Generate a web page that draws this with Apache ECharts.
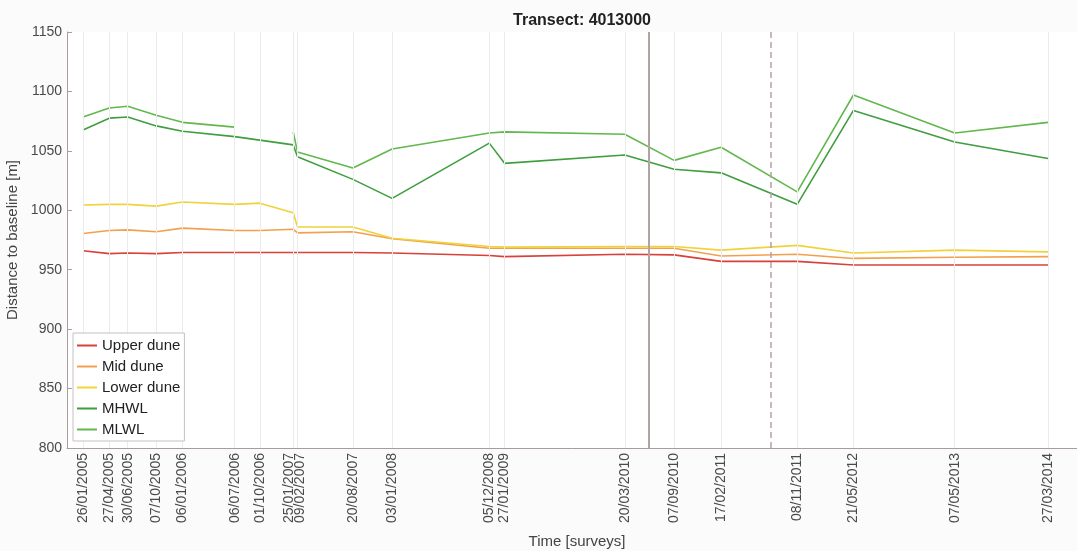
<!DOCTYPE html>
<html>
<head>
<meta charset="utf-8">
<script src="https://cdn.jsdelivr.net/npm/echarts@6/dist/echarts.min.js"></script>
<style>
  html, body { margin: 0; padding: 0; background: #fbfbfb; }
  #chart { width: 1077px; height: 551px; }
</style>
</head>
<body>
<div id="chart"></div>
<script>
// survey dates (tick labels) and the profile positions
var surveyDates = ['26/01/2005','27/04/2005','30/06/2005','07/10/2005','06/01/2006','06/07/2006','01/10/2006','25/01/2007','09/02/2007','20/08/2007','03/01/2008','05/12/2008','27/01/2009','20/03/2010','07/09/2010','17/02/2011','08/11/2011','21/05/2012','07/05/2013','27/03/2014'];

var upperDune = [966, 963.5, 964, 963.5, 964.5, 964.5, 964.5, 964.5, 964.5, 964.5, 964, 962, 961, 963, 962.5, 957, 957, 954, 954, 954];
var midDune   = [980.5, 983, 983.5, 982, 985, 983, 983, 984, 981, 982, 976, 968, 968, 968, 968, 961.5, 963, 959.5, 960.5, 961];
var lowerDune = [1004.5, 1005, 1005, 1003.5, 1007, 1005, 1006, 998, 986, 986, 976.5, 969.5, 969, 969.5, 969.5, 966.5, 970.5, 964, 966.5, 965];
var mhwl      = [1067.5, 1077.5, 1078.5, 1071, 1066.5, 1062, 1059, 1055, 1045, 1026, 1010, 1056.5, 1039.5, 1046.5, 1034.5, 1031.5, 1005, 1084, 1057.5, 1043.5];
var mlwl      = [1078.5, 1086, 1087.5, 1080, 1074, 1070, null, 1066, 1049, 1035.5, 1051.5, 1065, 1066, 1064, 1042, 1053, 1015.5, 1097, 1065, 1074];

var eventLine = '12/06/2010';   // solid vertical
var eventDashed = '09/08/2011'; // dashed vertical

var seriesNames = ['Upper dune', 'Mid dune', 'Lower dune', 'MHWL', 'MLWL'];
var seriesColors = ['#d8413a', '#f3a04e', '#f0d23a', '#3f9e3f', '#62b84e'];

function toTime(s) {
    var p = s.split('/');
    return new Date(+p[2], +p[1] - 1, +p[0]).getTime();
}

var ticks = surveyDates.map(toTime);
var tickText = {};
surveyDates.forEach(function (s, i) { tickText[ticks[i]] = s; });

function pairs(vals) {
    return vals.map(function (v, i) { return [ticks[i], v]; });
}

var DAY = 86400000;
var xMin = ticks[0] - 55.5 * DAY;
var xMax = ticks[0] + 3482 * DAY;

var myChart = echarts.init(document.getElementById('chart'));

var allSeries = [{
    // vertical grid at each survey
    name: 'grid',
    type: 'line',
    data: [],
    z: 1,
    silent: true,
    markLine: {
        silent: true,
        symbol: 'none',
        label: { show: false },
        lineStyle: { color: '#ebebeb', width: 1, type: 'solid' },
        data: ticks.map(function (t) { return { xAxis: t }; })
    }
}];

[upperDune, midDune, lowerDune, mhwl, mlwl].forEach(function (vals, i) {
    allSeries.push({
        name: seriesNames[i],
        type: 'line',
        data: pairs(vals),
        showSymbol: false,
        symbol: 'none',
        connectNulls: false,
        z: 3,
        lineStyle: { color: seriesColors[i], width: 1.6 },
        itemStyle: { color: seriesColors[i] }
    });
});

allSeries.push({
    name: 'events',
    type: 'line',
    data: [],
    z: 4,
    silent: true,
    markLine: {
        silent: true,
        symbol: 'none',
        label: { show: false },
        data: [
            { xAxis: toTime(eventLine), lineStyle: { color: '#b3a2a2', width: 2, type: 'solid' } },
            { xAxis: toTime(eventDashed), lineStyle: { color: '#b5a0a6', width: 1.5, type: [6, 4] } }
        ]
    }
});

var option = {
    backgroundColor: '#fbfbfb',
    animation: false,
    textStyle: { fontFamily: 'Liberation Sans, Arial, sans-serif' },
    title: {
        text: 'Transect: 4013000',
        left: 577,
        top: 8,
        textAlign: 'center',
        textStyle: { fontSize: 16, fontWeight: 'bold', color: '#222' }
    },
    legend: {
        data: seriesNames,
        orient: 'vertical',
        left: 73,
        top: 333,
        z: 20,
        itemWidth: 20,
        itemHeight: 12,
        itemGap: 6,
        padding: [5, 4, 4, 3],
        backgroundColor: '#ffffff',
        borderColor: '#c8c0c0',
        borderWidth: 1,
        borderRadius: 0,
        itemStyle: { opacity: 0 },
        textStyle: { fontSize: 15, color: '#222' }
    },
    grid: {
        left: 67,
        right: -10,
        top: 32,
        bottom: 103,
        outerBoundsMode: 'none',
        containLabel: false,
        show: true,
        backgroundColor: '#ffffff',
        borderWidth: 0
    },
    xAxis: {
        type: 'value',
        min: xMin,
        max: xMax,
        name: 'Time [surveys]',
        nameLocation: 'middle',
        nameGap: 86,
        nameTextStyle: { fontSize: 15, color: '#444' },
        axisLine: { lineStyle: { color: '#a89d9d', width: 1 } },
        axisTick: {
            inside: true,
            length: 5,
            customValues: ticks,
            lineStyle: { color: '#a89d9d' }
        },
        axisLabel: {
            customValues: ticks,
            rotate: 90,
            margin: 5,
            fontSize: 14,
            color: '#4a4a4a',
            hideOverlap: false,
            formatter: function (v) {
                var s = tickText[v] || '';
                if (s === '25/01/2007') return '{l|' + s + '}';
                if (s === '09/02/2007') return '{r|' + s + '}';
                return s;
            },
            rich: {
                l: { fontSize: 14, color: '#4a4a4a', padding: [0, 0, 8, 0] },
                r: { fontSize: 14, color: '#4a4a4a', padding: [5, 0, 0, 0] }
            }
        },
        splitLine: { show: false }
    },
    yAxis: {
        type: 'value',
        min: 800,
        max: 1150,
        interval: 50,
        name: 'Distance to baseline [m]',
        nameLocation: 'middle',
        nameGap: 41,
        nameTextStyle: { fontSize: 15, color: '#444' },
        axisLine: { show: true, lineStyle: { color: '#a89d9d', width: 1 } },
        axisTick: { show: true, inside: true, length: 5, lineStyle: { color: '#a89d9d' } },
        axisLabel: {
            fontSize: 14,
            color: '#4a4a4a',
            margin: 5,
            formatter: function (v) { return String(v); }
        },
        splitLine: { show: false }
    },
    series: allSeries
};

myChart.setOption(option);
</script>
</body>
</html>
